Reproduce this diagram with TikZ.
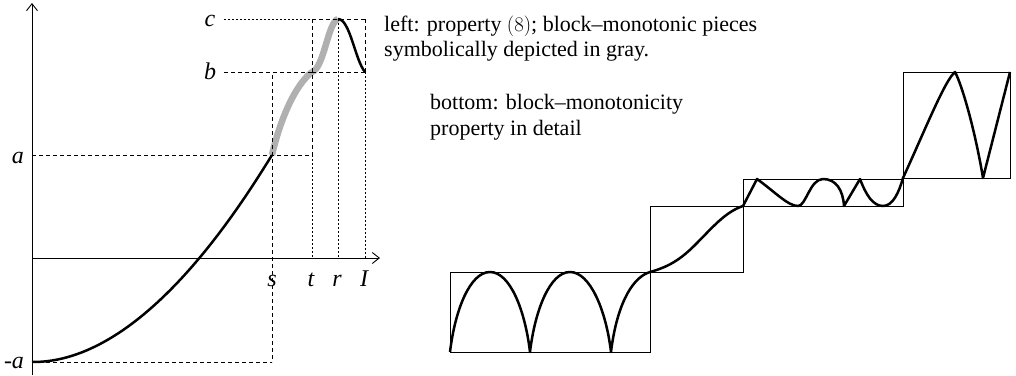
\documentclass[tikz,border=0pt]{standalone}
\usepackage{fontspec}
\setmainfont{Liberation Serif}
\usetikzlibrary{arrows.meta}
\begin{document}
\begin{tikzpicture}[x=1pt,y=-1pt,
  dashln/.style={line width=0.8pt, dash pattern=on 4pt off 3pt},
  dotln/.style={line width=0.8pt, dash pattern=on 1.6pt off 2.4pt},
  curve/.style={line width=2.5pt, line join=round},
  graycurve/.style={line width=6.5pt, color=black!31},
  axis/.style={line width=0.9pt, -{Straight Barb[length=7pt,width=11pt]}},
  lbl/.style={font=\fontsize{24}{28}\selectfont\itshape, inner sep=0pt, anchor=base},
  txt/.style={font=\fontsize{22}{26}\selectfont, inner sep=0pt, anchor=base west},
  box/.style={line width=0.9pt}
]
\useasboundingbox (0,0) rectangle (1016,375);

% ---------- left plot: key points ----------
\coordinate (ybot) at (32,375);
\coordinate (ytop) at (32,3);
\coordinate (xbeg) at (32,258);
\coordinate (xend) at (380,258);
\coordinate (Ya) at (32,155);
\coordinate (Yma) at (32,362);
\coordinate (Sa) at (272,155);
\coordinate (Sb) at (272,75);
\coordinate (Sma) at (272,362);
\coordinate (Ta) at (312,155);
\coordinate (Tb) at (312,72);
\coordinate (Tc) at (312,19);
\coordinate (Tx) at (312,258);
\coordinate (Rc) at (338,19);
\coordinate (Rx) at (338,258);
\coordinate (Ic) at (365,19);
\coordinate (Ib) at (365,72);
\coordinate (Ix) at (365,258);
\coordinate (Bl) at (224,72);
\coordinate (Cl) at (224,19);

% gray block-monotonic pieces
\draw[graycurve] (Sa) .. controls (280,120) and (295,85) .. (Tb);
\draw[graycurve] (Tb) .. controls (324,68) and (328,22) .. (Rc);

% dashed / dotted guide lines
\draw[dashln] (Ya) -- (Ta);
\draw[dashln] (Yma) -- (Sma);
\draw[dashln] (Sb) -- (Sma);
\draw[dotln] (Cl) -- (Tc);
\draw[dashln] (Tc) -- (Ic);
\draw[dashln] (Bl) -- (Tb);
\draw[dashln] (Tb) -- (Ib);
\draw[dashln] (Tc) -- (Ta);
\draw[dotln] (Ta) -- (Tx);
\draw[dotln] (Rc) -- (Rx);
\draw[dashln] (Ic) -- (Ib);
\draw[dotln] (Ib) -- (Ix);

% axes
\draw[axis] (ybot) -- (ytop);
\draw[axis] (xbeg) -- (xend);

% black curve
\draw[curve] (Yma) .. controls (140,363) and (235,215) .. (Sa);
\draw[curve] (Rc) .. controls (350,19) and (355,60) .. (Ib);

% labels
\node[lbl] (la) at (18,163) {a};
\node[lbl] (lma) at (14,368) {-a};
\node[lbl] (lb) at (210,79) {b};
\node[lbl] (lc) at (210,26) {c};
\node[lbl] (ls) at (272,286) {s};
\node[lbl] (lt) at (311,286) {t};
\node[lbl] (lr) at (337,286) {r};
\node[lbl] (lI) at (364,286) {I};

% ---------- text ----------
\node[txt] (t1) at (384,31) {left: property $(8)$; block–monotonic pieces};
\node[txt] (t2) at (384,56) {symbolically depicted in gray.};
\node[txt] (t3) at (430,109) {bottom: block–monotonicity};
\node[txt] (t4) at (430,135) {property in detail};

% ---------- right: boxes ----------
\draw[box] (450,272) rectangle (650,352);
\draw[box] (650,206) rectangle (743,272);
\draw[box] (743,179) rectangle (903,206);
\draw[box] (903,72) rectangle (1010,178);

\coordinate (p0) at (450,352);
\coordinate (p1) at (490,272);
\coordinate (p2) at (530,352);
\coordinate (p3) at (570,272);
\coordinate (p4) at (611,352);
\coordinate (p5) at (650,272);
\coordinate (p6) at (695,245);
\coordinate (p7) at (743,206);
\coordinate (p8) at (757,179);
\coordinate (p9) at (798,206);
\coordinate (p10) at (823,179);
\coordinate (p11) at (844,206);
\coordinate (p12) at (860,179);
\coordinate (p13) at (883,206);
\coordinate (p14) at (903,178);
\coordinate (p15) at (955,72);
\coordinate (p16) at (983,178);
\coordinate (p17) at (1010,72);

\draw[curve] (p0) .. controls (455,310) and (470,272) .. (p1)
  .. controls (510,272) and (525,310) .. (p2)
  .. controls (535,310) and (550,272) .. (p3)
  .. controls (590,272) and (606,310) .. (p4)
  .. controls (616,310) and (630,278) .. (p5)
  .. controls (668,267) and (680,260) .. (p6)
  .. controls (712,228) and (725,212) .. (p7)
  -- (p8)
  .. controls (775,192) and (788,206) .. (p9)
  .. controls (806,206) and (810,179) .. (p10)
  .. controls (836,179) and (843,190) .. (p11)
  -- (p12)
  .. controls (866,195) and (873,206) .. (p13)
  .. controls (893,206) and (899,192) .. (p14)
  .. controls (925,130) and (945,80) .. (p15)
  .. controls (962,85) and (975,130) .. (p16)
  -- (p17);
\end{tikzpicture}
\end{document}
